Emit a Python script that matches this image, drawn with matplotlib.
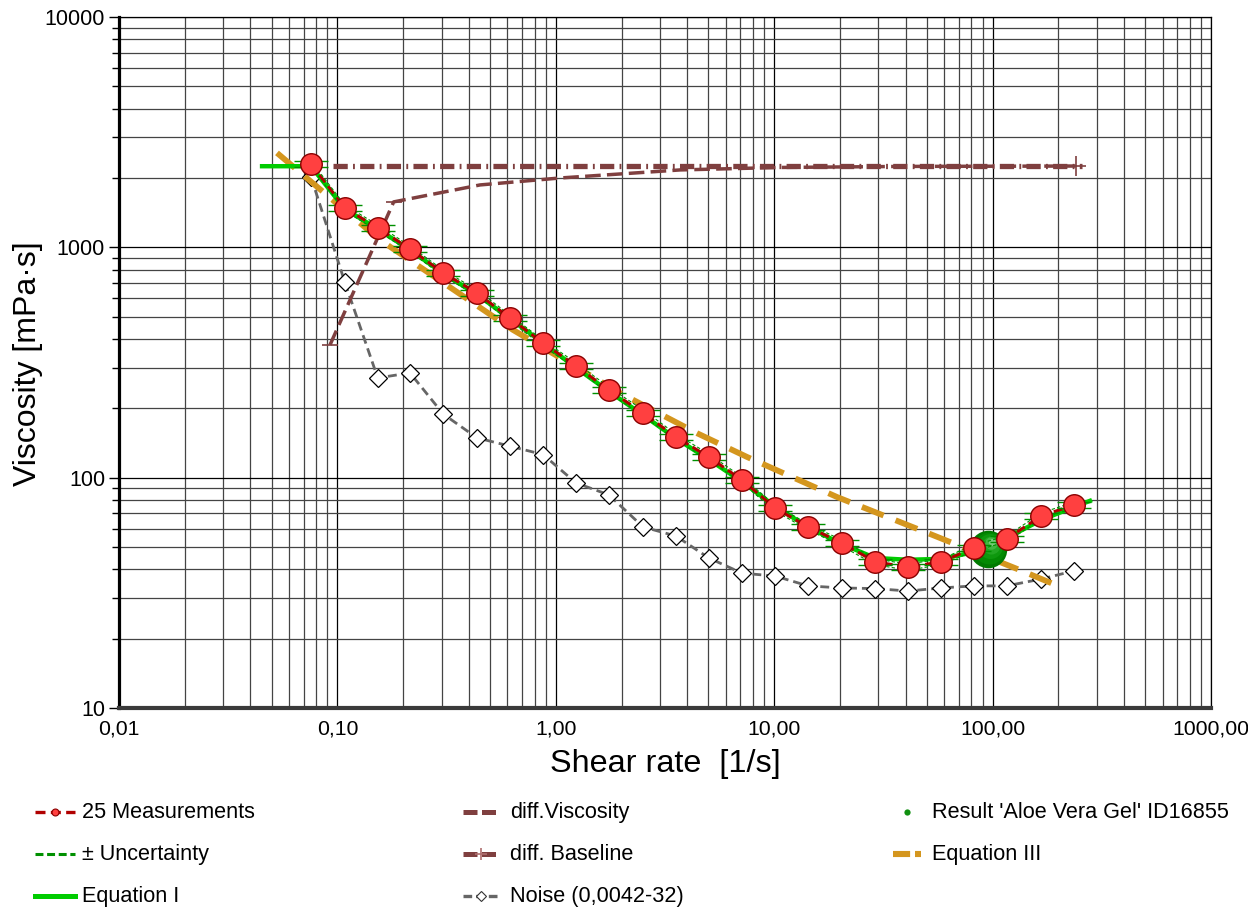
import numpy as np
import matplotlib
matplotlib.use("Agg")
import matplotlib.pyplot as plt
from matplotlib.lines import Line2D
from matplotlib.ticker import LogLocator, NullFormatter, FixedLocator, FixedFormatter
from matplotlib.transforms import offset_copy

plt.rcParams['font.family'] = ['Liberation Sans', 'DejaVu Sans']

# ---------------- data ----------------
shear_rate = [0.0757, 0.108, 0.153, 0.215, 0.305, 0.435, 0.617, 0.874, 1.237, 1.75,
              2.51, 3.55, 5.02, 7.12, 10.1, 14.3, 20.4, 29.0, 41.0, 58.1,
              82.2, 116, 167, 236]
viscosity = [2302, 1483, 1213, 984, 774, 634, 493, 384, 306, 240,
             191, 150, 123, 97.7, 73.8, 61.1, 52.0, 43.1, 40.9, 43.1,
             49.5, 54.2, 68.2, 76.1]
uncertainty_pct = [3.0, 3.0, 3.0, 3.0, 3.0, 3.0, 3.0, 3.0, 3.0, 3.0,
                   3.0, 3.0, 3.0, 3.0, 3.0, 3.0, 3.0, 3.0, 3.0, 3.0,
                   3.0, 3.0, 3.0, 3.0]
noise = [2023, 708, 271, 285, 189, 149, 137, 126, 94.9, 84.2,
         61.1, 55.8, 44.8, 38.5, 37.4, 33.9, 33.2, 33.0, 32.2, 33.2,
         33.9, 33.9, 36.3, 39.4]

eq1_rate = [0.0452, 0.0757, 0.108, 0.153, 0.215, 0.305, 0.435, 0.617, 0.874, 1.237,
            1.75, 2.51, 3.55, 5.02, 7.12, 10.1, 14.3, 20.4, 29.0, 41.0,
            58.1, 82.2, 116, 167, 236, 279]
eq1_visc = [2250, 2250, 1470, 1200, 975, 770, 625, 490, 385, 300,
            237, 187, 148, 120, 96, 75, 61, 51.5, 44.8, 44.0,
            44.4, 47.5, 54.7, 65.5, 74.6, 79.3]

eq3_rate = [0.0529, 0.1567, 0.637, 1.97, 4.43, 7.51, 19.4, 46.5, 133.5, 210]
eq3_visc = [2570, 1077, 438, 233, 156, 123, 82.4, 59.3, 39.7, 33.2]

baseline_rate = [0.0925, 0.181, 0.450, 1.045, 3.71, 10.6, 37.7, 240]
baseline_visc = [377, 1575, 1866, 2000, 2168, 2222, 2245, 2254]

diffvisc_rate = [0.095, 256]
diffvisc_visc = [2250, 2250]

result_rate = [95.3]
result_visc = [49.0]

xticks = [0.01, 0.1, 1, 10, 100, 1000]
xtick_labels = ["0,01", "0,10", "1,00", "10,00", "100,00", "1000,00"]
yticks = [10, 100, 1000, 10000]
ytick_labels = ["10", "100", "1000", "10000"]

legend_col1 = ["25 Measurements", "\u00b1 Uncertainty", "Equation I"]
legend_col2 = ["diff.Viscosity", "diff. Baseline", "Noise (0,0042-32)"]
legend_col3 = ["Result 'Aloe Vera Gel' ID16855", "Equation III"]

# ---------------- colours ----------------
C_RED_LINE = '#b00000'
C_RED_FILL = '#ff4040'
C_RED_EDGE = '#8a0000'
C_GREEN = '#00cc00'
C_UNC = '#009000'
C_BROWN = '#7f3f3f'
C_GREY = '#666666'
C_ORANGE = '#d4961e'

W, H = 1248, 913
fig = plt.figure(figsize=(W / 100, H / 100), dpi=100)
ax = fig.add_axes([119 / W, 1 - 708 / H, (1211 - 119) / W, (708 - 17) / H])
ax.set_xscale('log')
ax.set_yscale('log')
ax.set_xlim(0.01, 1000)
ax.set_ylim(10, 10000)

# grid
ax.xaxis.set_major_locator(FixedLocator(xticks))
ax.xaxis.set_major_formatter(FixedFormatter(xtick_labels))
ax.yaxis.set_major_locator(FixedLocator(yticks))
ax.yaxis.set_major_formatter(FixedFormatter(ytick_labels))
ax.xaxis.set_minor_locator(LogLocator(base=10, subs=np.arange(2, 10)))
ax.yaxis.set_minor_locator(LogLocator(base=10, subs=np.arange(2, 10)))
ax.xaxis.set_minor_formatter(NullFormatter())
ax.yaxis.set_minor_formatter(NullFormatter())
ax.grid(which='major', color='black', lw=0.9, zorder=0)
ax.grid(which='minor', color='#444444', lw=0.9, zorder=0)
ax.set_axisbelow(True)

ax.tick_params(axis='x', which='both', length=0, labelsize=15.3, pad=8)
ax.tick_params(axis='y', which='major', length=7, width=1, direction='out', labelsize=15.5, pad=3)
ax.tick_params(axis='y', which='minor', length=5, width=1, direction='out')

for s in ['top', 'right']:
    ax.spines[s].set_linewidth(0.9)
ax.spines['left'].set_linewidth(2.3)
ax.spines['bottom'].set_linewidth(3.0)
ax.spines['bottom'].set_color('#3a3a3a')

ax.set_xlabel("Shear rate  [1/s]", fontsize=23.3, labelpad=8)
ax.set_ylabel("Viscosity [mPa\u00b7s]", fontsize=23, va='center')
ax.yaxis.set_label_coords((28 - 119) / 1092, (708 - 363.5) / 691)

# ---------------- series ----------------
# Noise
ax.plot(shear_rate, noise, color=C_GREY, lw=2.0, linestyle=(0, (3.2, 1.8)),
        marker='D', markersize=9.0, markerfacecolor='white', markeredgecolor='black',
        markeredgewidth=0.9, zorder=3)

# diff. Baseline (curve)
ax.plot(baseline_rate, baseline_visc, color=C_BROWN, lw=2.5, linestyle=(0, (4.5, 1.8)), zorder=3)
ax.plot(baseline_rate[:2], baseline_visc[:2], linestyle='none', marker='_', markersize=12,
        markeredgewidth=1.2, color=C_BROWN, zorder=3)
ax.plot(baseline_rate[-1:], baseline_visc[-1:], linestyle='none', marker='+', markersize=14,
        markeredgewidth=1.2, color=C_BROWN, zorder=3)

# diff. Viscosity (dash-dot)
ax.plot(diffvisc_rate, diffvisc_visc, color=C_BROWN, lw=3.8, solid_capstyle='butt',
        dash_capstyle='butt', linestyle=(0, (2.7, 1.0, 0.35, 1.0)), zorder=3)

# Equation III
ax.plot(eq3_rate, eq3_visc, color=C_ORANGE, lw=4.2, linestyle=(0, (4.0, 2.2)),
        dash_capstyle='butt', zorder=4)

# Equation I
ax.plot(eq1_rate, eq1_visc, color=C_GREEN, lw=3.2, zorder=5)

# Measurements line
ax.plot(shear_rate, viscosity, color=C_RED_LINE, lw=2.2, linestyle=(0, (3.0, 1.6)), zorder=6)

# Result sphere (green ball with highlight)
base_tr = ax.transData
ax.plot(result_rate, result_visc, 'o', markersize=27, color='#007a00', markeredgewidth=0, zorder=7)
for i, (ms, col) in enumerate([(23, '#038a03'), (18, '#0e980e'), (13, '#22a622'),
                               (9, '#42b642'), (5, '#7ccc7c')]):
    tr = offset_copy(base_tr, fig=fig, x=0.6 * (i + 1), y=1.0 * (i + 1), units='points')
    ax.plot(result_rate, result_visc, 'o', markersize=ms, color=col, markeredgewidth=0,
            transform=tr, zorder=7.1 + 0.01 * i)

# Uncertainty
unc_upper = [v * (1 + p / 100) for v, p in zip(viscosity, uncertainty_pct)]
unc_lower = [v / (1 + p / 100) for v, p in zip(viscosity, uncertainty_pct)]
for arr in (unc_upper, unc_lower):
    ax.plot(shear_rate, arr, color=C_UNC, lw=0.8, linestyle=(0, (3, 2)),
            marker='_', markersize=25, markeredgewidth=1.0, zorder=7.5)

# Measurements circles
ax.plot(shear_rate, viscosity, linestyle='none', marker='o', markersize=15.5,
        markerfacecolor=C_RED_FILL, markeredgecolor=C_RED_EDGE, markeredgewidth=1.0, zorder=8)

# ---------------- legend (manual, three columns) ----------------
rows_y = [1 - 812 / H, 1 - 854 / H, 1 - 896 / H]
FS = 15.6


def handle(x0, x1, y, **kw):
    ln = Line2D([x0 / W, x1 / W], [y, y], transform=fig.transFigure, **kw)
    fig.add_artist(ln)


def marker_at(x, y, **kw):
    ln = Line2D([x / W], [y], transform=fig.transFigure, linestyle='none', **kw)
    fig.add_artist(ln)


# column 1
handle(35, 75, rows_y[0], color=C_RED_LINE, lw=2.4, linestyle=(0, (3, 1.6)))
marker_at(55, rows_y[0], marker='o', markersize=5, markerfacecolor=C_RED_FILL,
          markeredgecolor=C_RED_EDGE, markeredgewidth=0.8)
handle(35, 75, rows_y[1], color=C_UNC, lw=2.2, linestyle=(0, (2.6, 1.2)))
handle(35, 75, rows_y[2], color=C_GREEN, lw=3.6)
for y, lab in zip(rows_y, legend_col1):
    fig.text(82 / W, y, lab, fontsize=FS, va='center', ha='left')

# column 2
handle(463, 500, rows_y[0], color=C_BROWN, lw=3.6, linestyle=(0, (2.8, 0.9)))
handle(463, 500, rows_y[1], color=C_BROWN, lw=3.6, linestyle=(0, (2.8, 0.9)))
marker_at(481, rows_y[1], marker='+', markersize=9, color='#b07070', markeredgewidth=1.2)
handle(463, 500, rows_y[2], color=C_GREY, lw=2.4, linestyle=(0, (2.6, 1.2)))
marker_at(481, rows_y[2], marker='D', markersize=5.5, markerfacecolor='white',
          markeredgecolor='#333333', markeredgewidth=0.8)
for y, lab in zip(rows_y, legend_col2):
    fig.text(510 / W, y, lab, fontsize=FS, va='center', ha='left')

# column 3
marker_at(907, rows_y[0], marker='o', markersize=4.5, color='#109010', markeredgewidth=0)
handle(893, 921, rows_y[1], color=C_ORANGE, lw=4.4, linestyle=(0, (2.8, 0.8)), dash_capstyle='butt')
for y, lab in zip(rows_y[:2], legend_col3):
    fig.text(932 / W, y, lab, fontsize=FS, va='center', ha='left')

fig.savefig('out.png', dpi=100)
